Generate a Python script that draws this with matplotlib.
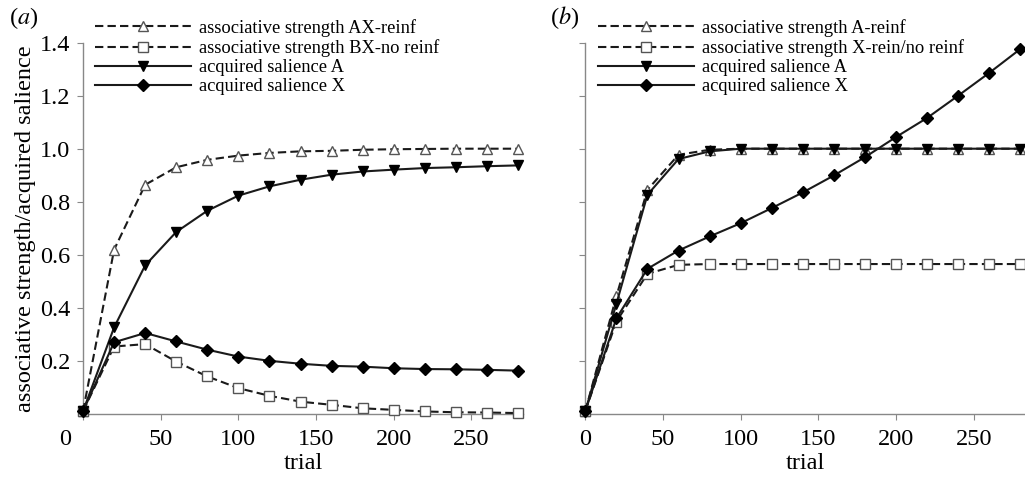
import numpy as np
import matplotlib.pyplot as plt
import matplotlib.transforms as mtransforms

plt.rcParams['font.family'] = ['Liberation Serif', 'DejaVu Serif']
plt.rcParams['mathtext.fontset'] = 'stix'

trial = [0, 20, 40, 60, 80, 100, 120, 140, 160, 180, 200, 220, 240, 260, 280]

# panel (a)
a_assoc_ax = [0.01, 0.619, 0.864, 0.93, 0.958, 0.974, 0.984, 0.99, 0.992, 0.996, 0.998, 0.999, 1.0, 1.0, 1.0]
a_assoc_bx = [0.01, 0.254, 0.263, 0.197, 0.141, 0.097, 0.068, 0.046, 0.034, 0.021, 0.015, 0.009, 0.006, 0.005, 0.003]
a_sal_a = [0.01, 0.326, 0.56, 0.686, 0.766, 0.823, 0.858, 0.883, 0.902, 0.914, 0.921, 0.927, 0.93, 0.934, 0.937]
a_sal_x = [0.01, 0.27, 0.305, 0.273, 0.242, 0.216, 0.2, 0.189, 0.181, 0.178, 0.172, 0.169, 0.168, 0.166, 0.163]

# panel (b)
b_assoc_a = [0.01, 0.443, 0.845, 0.977, 0.996, 1.0, 1.0, 1.0, 1.0, 1.0, 1.0, 1.0, 1.0, 1.0, 1.0]
b_assoc_x = [0.01, 0.348, 0.528, 0.562, 0.565, 0.565, 0.565, 0.565, 0.565, 0.565, 0.565, 0.565, 0.565, 0.565, 0.565]
b_sal_a = [0.01, 0.415, 0.826, 0.961, 0.99, 1.0, 1.0, 1.0, 1.0, 1.0, 1.0, 1.0, 1.0, 1.0, 1.0]
b_sal_x = [0.01, 0.36, 0.547, 0.616, 0.669, 0.719, 0.776, 0.835, 0.899, 0.968, 1.044, 1.116, 1.2, 1.286, 1.376]

labels_a = ['associative strength AX-reinf', 'associative strength BX-no reinf',
            'acquired salience A', 'acquired salience X']
labels_b = ['associative strength A-reinf', 'associative strength X-rein/no reinf',
            'acquired salience A', 'acquired salience X']

fig = plt.figure(figsize=(10.25, 4.79), dpi=100)
ax1 = fig.add_axes([0.081, 0.136, 0.429, 0.775])
ax2 = fig.add_axes([0.571, 0.136, 0.429, 0.775])

dash = (4, 2)
line_c = '#1a1a1a'
open_edge = '#555555'
fs = 17.5

def draw(ax, s1, s2, s3, s4, labels):
    ax.plot(trial, s1, ls='--', dashes=dash, c=line_c, lw=1.5, marker='^', ms=7,
            mfc='white', mec=open_edge, mew=1.0, label=labels[0], clip_on=False, zorder=3)
    ax.plot(trial, s2, ls='--', dashes=dash, c=line_c, lw=1.5, marker='s', ms=6.5,
            mfc='white', mec=open_edge, mew=1.0, label=labels[1], clip_on=False, zorder=3)
    ax.plot(trial, s3, ls='-', c=line_c, lw=1.5, marker='v', ms=7,
            mfc='black', mec='black', label=labels[2], clip_on=False, zorder=4)
    ax.plot(trial, s4, ls='-', c=line_c, lw=1.5, marker='D', ms=6,
            mfc='black', mec='black', label=labels[3], clip_on=False, zorder=4)
    ax.set_xlim(0, 283)
    ax.set_ylim(0, 1.4)
    ax.set_xticks([0, 50, 100, 150, 200, 250])
    ax.set_yticks([0.2, 0.4, 0.6, 0.8, 1.0, 1.2, 1.4])
    for side in ['top', 'right']:
        ax.spines[side].set_visible(False)
    for side in ['left', 'bottom']:
        ax.spines[side].set_color('#888888')
        ax.spines[side].set_linewidth(1.0)
    ax.tick_params(direction='out', length=4, color='#888888', labelsize=fs, pad=5)
    ax.tick_params(axis='x', pad=7)
    ax.set_xlabel('trial', fontsize=fs, labelpad=2)
    ax.patch.set_visible(False)

draw(ax1, a_assoc_ax, a_assoc_bx, a_sal_a, a_sal_x, labels_a)
draw(ax2, b_assoc_a, b_assoc_x, b_sal_a, b_sal_x, labels_b)

ax1.set_yticklabels(['0.2', '0.4', '0.6', '0.8', '1.0', '1.2', '1.4'])
ax2.set_yticklabels([])
ax1.set_ylabel('associative strength/acquired salience', fontsize=fs, labelpad=3)

# the "0" of panel (a) sits left of the axis
off = mtransforms.ScaledTranslation(-18 / 100, 0, fig.dpi_scale_trans)
lab0 = ax1.get_xticklabels()[0]
lab0.set_transform(lab0.get_transform() + off)

leg_kw = dict(loc='upper left', frameon=False, fontsize=13.3, handlelength=5.2,
              handletextpad=0.45, labelspacing=0.12, borderpad=0, borderaxespad=0)
ax1.legend(bbox_to_anchor=(95 / 1025, 1 - 19 / 479), bbox_transform=fig.transFigure, **leg_kw)
ax2.legend(bbox_to_anchor=(598 / 1025, 1 - 19 / 479), bbox_transform=fig.transFigure, **leg_kw)

fig.text(9 / 1025, 1 - 18 / 479, r'($\mathit{a}$)', fontsize=fs, va='center', ha='left')
fig.text(550 / 1025, 1 - 18 / 479, r'($\mathit{b}$)', fontsize=fs, va='center', ha='left')

fig.savefig('out.png', dpi=100)
